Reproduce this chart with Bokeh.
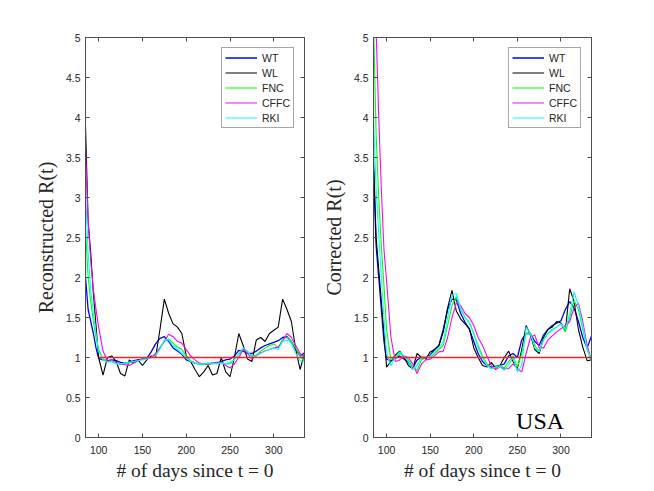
from bokeh.plotting import figure
from bokeh.models import (Range1d, FixedTicker, LinearAxis, Legend, LegendItem,
                          Label, CustomJSTickFormatter)
from bokeh.layouts import row
from bokeh.embed import file_html
from bokeh.resources import INLINE

# ---------------- data ----------------
t_days = [85, 88, 91, 94, 97,
          100, 105, 110, 115, 120, 125, 130, 135, 140, 145,
          150, 155, 160, 165, 170, 175, 180, 185, 190, 195,
          200, 205, 210, 215, 220, 225, 230, 235, 240, 245,
          250, 255, 260, 265, 270, 275, 280, 285, 290, 295,
          300, 305, 310, 315, 320, 325, 330, 335]

# Reconstructed R(t)
WT_rec = [2.0, 1.6, 1.45, 1.3, 1.12,
          0.99, 0.97, 0.96, 0.97, 0.96, 0.94, 0.93, 0.94, 0.96, 0.97,
          0.98, 0.99, 1.07, 1.17, 1.24, 1.26, 1.2, 1.12, 1.08, 1.04,
          0.97, 0.95, 0.93, 0.92, 0.92, 0.92, 0.93, 0.93, 0.95, 0.97,
          0.98, 1.02, 1.09, 1.08, 1.05, 1.05, 1.08, 1.12, 1.15, 1.17,
          1.19, 1.21, 1.25, 1.26, 1.2, 1.1, 1.02, 1.06]
WL_rec = [3.9, 2.7, 2.3, 1.8, 1.4,
          1.0, 0.78, 1.0, 1.02, 0.95, 0.8, 0.77, 0.97, 0.93, 0.97,
          0.9, 0.97, 1.02, 1.0, 1.35, 1.73, 1.55, 1.42, 1.38, 1.3,
          1.02, 0.95, 0.85, 0.76, 0.82, 0.9, 0.78, 0.8, 1.0, 0.82,
          0.76, 1.0, 1.3, 1.15, 0.98, 0.95, 1.22, 1.25, 1.2, 1.3,
          1.34, 1.38, 1.73, 1.6, 1.45, 1.1, 0.85, 1.05]
FNC_rec = [2.6, 2.0, 1.7, 1.45, 1.25,
           1.1, 0.98, 0.95, 0.96, 0.93, 0.92, 0.92, 0.93, 0.95, 0.96,
           0.98, 0.99, 1.0, 1.03, 1.12, 1.2, 1.23, 1.18, 1.13, 1.1,
           1.02, 0.96, 0.93, 0.92, 0.91, 0.92, 0.92, 0.93, 0.94, 0.92,
           0.92, 0.98, 1.04, 1.1, 1.07, 1.02, 1.03, 1.08, 1.12, 1.15,
           1.17, 1.12, 1.23, 1.25, 1.2, 1.12, 1.02, 0.95]
CFFC_rec = [3.6, 2.7, 2.2, 1.85, 1.6,
            1.38, 1.08, 0.96, 0.95, 0.94, 0.92, 0.91, 0.9, 0.93, 0.96,
            0.98, 0.98, 1.0, 1.05, 1.12, 1.2, 1.29, 1.26, 1.2, 1.18,
            1.1, 1.02, 0.97, 0.93, 0.92, 0.92, 0.93, 0.94, 0.94, 0.9,
            0.87, 0.92, 1.0, 1.1, 1.05, 0.98, 1.02, 1.06, 1.08, 1.1,
            1.12, 1.13, 1.2, 1.3, 1.25, 1.15, 1.05, 1.0]
RKI_rec = [3.1, 2.3, 1.85, 1.55, 1.3,
           1.08, 0.97, 0.94, 0.95, 0.92, 0.92, 0.93, 0.94, 0.95, 0.96,
           0.97, 0.98, 1.0, 1.02, 1.1, 1.22, 1.22, 1.15, 1.1, 1.05,
           1.0, 0.95, 0.93, 0.92, 0.92, 0.93, 0.93, 0.92, 0.93, 0.92,
           0.94, 0.97, 1.05, 1.12, 1.08, 1.0, 1.02, 1.05, 1.08, 1.1,
           1.12, 1.1, 1.2, 1.22, 1.18, 1.05, 0.96, 0.95]

# Corrected R(t)
WT_cor = [3.35, 2.4, 2.0, 1.6, 1.2,
          0.98, 0.96, 0.99, 1.02, 0.98, 0.94, 0.87, 0.97, 1.0, 1.0,
          1.03, 1.1, 1.15, 1.35, 1.6, 1.73, 1.72, 1.55, 1.44, 1.35,
          1.2, 1.05, 0.95, 0.9, 0.88, 0.89, 0.9, 0.92, 1.02, 1.05,
          1.0, 1.22, 1.3, 1.3, 1.2, 1.15, 1.28, 1.35, 1.4, 1.43,
          1.46, 1.6, 1.7, 1.62, 1.45, 1.25, 1.12, 1.27]
WL_cor = [3.5, 2.5, 2.1, 1.7, 1.3,
          0.88, 0.95, 1.03, 1.08, 1.0, 0.9, 0.86, 1.05, 1.0, 0.98,
          1.07, 1.1, 1.15, 1.32, 1.62, 1.84, 1.58, 1.48, 1.42, 1.36,
          1.12, 1.0, 0.9, 0.88, 0.94, 0.87, 0.9, 1.0, 1.08, 0.95,
          0.86, 1.1, 1.4, 1.28, 1.1, 1.05, 1.25, 1.35, 1.38, 1.45,
          1.43, 1.33, 1.86, 1.7, 1.35, 1.13, 0.96, 0.97]
FNC_cor = [5.2, 3.8, 3.0, 2.4, 1.9,
           1.35, 0.97, 1.0, 1.05, 1.02, 0.97, 0.88, 0.84, 0.97, 1.0,
           1.0, 1.05, 1.1, 1.15, 1.4, 1.65, 1.76, 1.6, 1.5, 1.44,
           1.3, 1.15, 1.02, 0.92, 0.86, 0.88, 0.9, 0.87, 0.95, 1.02,
           0.88, 1.05, 1.3, 1.3, 1.15, 1.08, 1.22, 1.3, 1.35, 1.38,
           1.42, 1.32, 1.5, 1.71, 1.6, 1.35, 1.1, 0.95]
CFFC_cor = [5.3, 5.1, 4.0, 3.1, 2.35,
            1.95, 1.25, 0.95, 0.97, 1.02, 1.0, 0.92, 0.8, 0.92, 0.97,
            0.98, 1.02, 1.07, 1.08, 1.25, 1.5, 1.68, 1.65, 1.55, 1.5,
            1.4, 1.25, 1.15, 1.02, 0.9, 0.85, 0.88, 0.86, 0.86, 0.92,
            0.86, 0.82, 1.05, 1.25, 1.28, 1.12, 1.12, 1.22, 1.27, 1.32,
            1.36, 1.4, 1.45, 1.62, 1.68, 1.45, 1.15, 0.96]
RKI_cor = [4.0, 3.1, 2.55, 2.0, 1.5,
           1.05, 0.9, 1.0, 1.07, 1.02, 0.95, 0.85, 0.9, 1.0, 1.0,
           1.02, 1.07, 1.12, 1.2, 1.5, 1.78, 1.8, 1.62, 1.5, 1.43,
           1.3, 1.12, 1.0, 0.9, 0.86, 0.88, 0.88, 0.84, 0.9, 1.0,
           0.82, 0.9, 1.38, 1.3, 1.12, 1.07, 1.22, 1.3, 1.34, 1.38,
           1.42, 1.35, 1.55, 1.82, 1.65, 1.4, 1.1, 0.98]

ref_t = [100, 335]
ref_R = [1, 1]

series_names = ["WT", "WL", "FNC", "CFFC", "RKI"]
series_colors = ["#0000ff", "#000000", "#00ff00", "#ff00ff", "#00ffff"]
series_widths = [1.3, 1.1, 1.1, 1.1, 1.1]

x_ticks = [100, 150, 200, 250, 300]
y_ticks = [0, 0.5, 1, 1.5, 2, 2.5, 3, 3.5, 4, 4.5, 5]

AX = "#4d4d4d"
TXT = "#262626"
SANS = "Liberation Sans"
SERIF = "Liberation Serif"


def make_panel(series, ylabel, border_left, frame_w, note=None):
    p = figure(frame_width=frame_w, frame_height=400,
               min_border_left=border_left, min_border_right=10,
               min_border_top=37, min_border_bottom=46,
               x_range=Range1d(85, 335), y_range=Range1d(0, 5),
               output_backend="svg", toolbar_location=None,
               background_fill_color="white", border_fill_color="white")
    p.grid.visible = False
    p.outline_line_color = AX
    p.outline_line_width = 1

    fmt = CustomJSTickFormatter(code="return tick.toString();")
    for ax, ticks in ((p.xaxis[0], x_ticks), (p.yaxis[0], y_ticks)):
        ax.ticker = FixedTicker(ticks=ticks)
        ax.formatter = fmt
        ax.axis_line_color = AX
        ax.major_tick_line_color = AX
        ax.major_tick_in = 4
        ax.major_tick_out = 0
        ax.minor_tick_line_color = None
        ax.major_label_text_color = TXT
        ax.major_label_text_font = SANS
        ax.major_label_text_font_size = "10.5px"
        ax.axis_label_text_font = SERIF
        ax.axis_label_text_font_style = "normal"
        ax.axis_label_text_color = TXT
    p.xaxis[0].axis_label = "# of days since t = 0"
    p.xaxis[0].axis_label_text_font_size = "19.5px"
    p.xaxis[0].major_label_standoff = 8
    p.xaxis[0].axis_label_standoff = 3
    p.yaxis[0].axis_label = ylabel
    p.yaxis[0].axis_label_text_font_size = "20px"
    p.yaxis[0].major_label_standoff = 5
    p.yaxis[0].axis_label_standoff = 6

    blank = CustomJSTickFormatter(code="return '';")
    for loc, ticks in (("above", x_ticks), ("right", y_ticks)):
        ax = LinearAxis(ticker=FixedTicker(ticks=ticks), formatter=blank,
                        axis_line_color=AX, major_tick_line_color=AX,
                        major_tick_in=4, major_tick_out=0,
                        minor_tick_line_color=None, major_label_standoff=0,
                        major_label_text_font_size="1px")
        p.add_layout(ax, loc)

    items = []
    for name, color, w in zip(series_names, series_colors, series_widths):
        r = p.line(t_days, series[name], line_color=color, line_width=w)
        items.append(LegendItem(label=name, renderers=[r]))
    p.line(ref_t, ref_R, line_color="#ff2020", line_width=1.5)

    leg = Legend(items=items, location="top_right", margin=10, padding=3,
                 spacing=2, label_height=13, glyph_height=13, glyph_width=32,
                 label_standoff=5, label_text_font=SANS,
                 label_text_font_size="10.5px", label_text_color=TXT,
                 border_line_color=AX, border_line_width=1,
                 background_fill_color="white", background_fill_alpha=1)
    p.add_layout(leg)

    if note:
        p.add_layout(Label(x=276, y=0.21, text=note, text_font=SERIF,
                           text_font_size="24px", text_align="center",
                           text_baseline="alphabetic", text_color="black"))
    return p


p1 = make_panel({"WT": WT_rec, "WL": WL_rec, "FNC": FNC_rec,
                 "CFFC": CFFC_rec, "RKI": RKI_rec},
                "Reconstructed R(t)", 85, 219)
p2 = make_panel({"WT": WT_cor, "WL": WL_cor, "FNC": FNC_cor,
                 "CFFC": CFFC_cor, "RKI": RKI_cor},
                "Corrected R(t)", 59, 218, note="USA")

layout = row(p1, p2)
open("out.html", "w").write(file_html(layout, INLINE))
